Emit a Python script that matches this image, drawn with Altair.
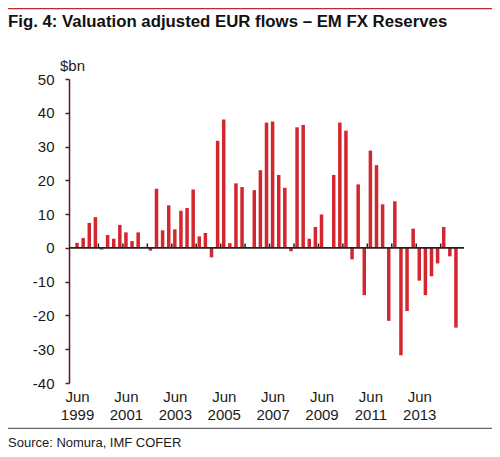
import altair as alt
import pandas as pd

# quarterly flows, Jun 1999 .. Dec 2014 ($bn)
flows = [1.5, 2.9, 7.4, 9.1, -0.5, 3.8, 2.7, 6.8, 4.6, 2.0, 4.6, 0.3, -0.8,
         17.5, 5.2, 12.6, 5.5, 11.0, 11.8, 17.3, 3.4, 4.4, -2.8, 31.7, 38.0,
         1.4, 19.1, 18.0, 0.2, 17.1, 23.0, 37.1, 37.4, 21.6, 17.8, -1.0, 35.7,
         36.4, 2.7, 6.2, 9.9, 0.2, 21.6, 37.1, 34.7, -3.4, 18.8, -14.0, 28.8,
         24.5, 12.9, -21.6, 13.8, -31.8, -18.7, 5.7, -9.7, -14.0, -8.4, -4.6,
         6.2, -2.5, -23.6]
label_years = ["1999", "2001", "2003", "2005", "2007", "2009", "2011", "2013"]
y_ticks = [-40, -30, -20, -10, 0, 10, 20, 30, 40, 50]

title_text = "Fig. 4: Valuation adjusted EUR flows \u2013 EM FX Reserves"
source_text = "Source: Nomura, IMF COFER"

RED = "#d2272e"
MAROON = "#5a1a1e"
FONT = "Liberation Sans"

df = pd.DataFrame({"q": range(len(flows)), "v": flows})
year_ticks = pd.DataFrame({"q": [3.5 + 4 * k for k in range(15)]})
year_ticks["v"] = 0
year_ticks["hi"] = 1.3
zero = pd.DataFrame({"v": [0]})
one = pd.DataFrame({"a": [0]})

x_scale = alt.Scale(domain=[-0.5, len(flows) - 0.5], nice=False, zero=False)
y_scale = alt.Scale(domain=[-40, 50], nice=False)

years_js = "[" + ",".join("'%s'" % y for y in label_years) + "]"

x_axis = alt.Axis(values=[8 * k for k in range(len(label_years))],
                  labelExpr="['Jun', %s[datum.value / 8]]" % years_js,
                  domain=False, ticks=False, tickSize=0, grid=False,
                  labelFont=FONT, labelFontSize=15, labelColor="#1a1a1a",
                  labelPadding=6, labelLineHeight=18,
                  labelFlush=False, labelOverlap=False)
y_axis = alt.Axis(values=y_ticks, labelExpr="'' + datum.value", grid=False,
                  domainColor=MAROON, domainWidth=1.5, tickColor=MAROON,
                  tickWidth=1.5, tickSize=4, labelFont=FONT, labelFontSize=15,
                  labelColor="#1a1a1a", labelPadding=11, labelOverlap=False)

bars = alt.Chart(df).mark_bar(size=3.5, color=RED).encode(
    x=alt.X("q:Q", scale=x_scale, axis=x_axis, title=None),
    y=alt.Y("v:Q", scale=y_scale, axis=y_axis, title=None),
)

zero_line = alt.Chart(zero).mark_rule(color="#222222", strokeWidth=1.6).encode(
    y=alt.Y("v:Q", scale=y_scale, axis=y_axis, title=None),
    x=alt.value(0), x2=alt.value(395)
)

ticks = alt.Chart(year_ticks).mark_rule(color="#222222", strokeWidth=1.5).encode(
    x=alt.X("q:Q", scale=x_scale, axis=x_axis, title=None),
    y=alt.Y("v:Q", scale=y_scale, axis=y_axis, title=None),
    y2="hi:Q",
)

top_line = alt.Chart(one).mark_rule(color="#c0282d", strokeWidth=1.2).encode(
    x=alt.value(-61), x2=alt.value(423), y=alt.value(-70.4)
)
bottom_line = alt.Chart(one).mark_rule(color="#444444", strokeWidth=1).encode(
    x=alt.value(-61), x2=alt.value(423), y=alt.value(349.3)
)

title = alt.Chart(one).mark_text(
    text=title_text, align="left", baseline="alphabetic", font=FONT,
    fontSize=16.8, fontWeight="bold", color="#111111"
).encode(x=alt.value(-61), y=alt.value(-52.3))

unit = alt.Chart(one).mark_text(
    text="$bn", align="left", baseline="alphabetic", font=FONT,
    fontSize=15, color="#1a1a1a"
).encode(x=alt.value(-9), y=alt.value(-8.5))

source = alt.Chart(one).mark_text(
    text=source_text, align="left", baseline="alphabetic", font=FONT,
    fontSize=13, color="#1a1a1a"
).encode(x=alt.value(-61), y=alt.value(368))

chart = alt.layer(
    bars, zero_line, ticks, top_line, bottom_line, title, unit, source
).properties(
    width=395, height=304,
    autosize=alt.AutoSizeParams(type="none"),
    padding={"left": 61, "top": 71, "right": 28, "bottom": 66},
).configure_view(stroke=None)

chart.save("out.html", embed_options={"renderer": "svg", "actions": False})
